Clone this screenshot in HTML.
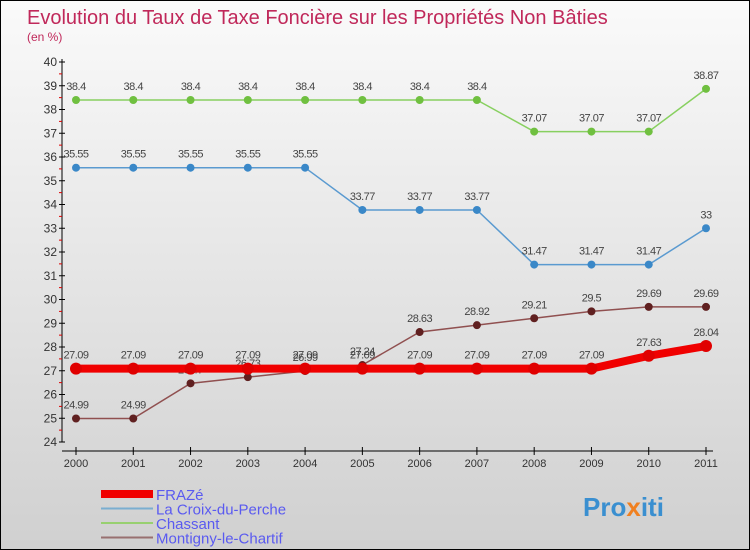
<!DOCTYPE html>
<html><head><meta charset="utf-8"><style>
body{margin:0}
#c{width:748px;height:548px;border:1px solid #000;background:linear-gradient(#fafafa,#d0d0d0);position:relative;font-family:"Liberation Sans",sans-serif;overflow:hidden}
</style></head><body>
<div id="c">
<svg id="s" width="748" height="548" xmlns="http://www.w3.org/2000/svg">
<text x="26" y="23" font-size="20" fill="#c0285a">Evolution du Taux de Taxe Foncière sur les Propriétés Non Bâties</text>
<text x="26" y="40" font-size="12" fill="#c0285a">(en %)</text>
<g id="axes"></g><g id="series"></g><g id="legend"></g>
<text x="582" y="515" font-size="26" font-weight="bold" fill="#3a8fd0">Pro<tspan fill="#f08020">x</tspan>iti</text>
</svg></div>
<script>
const years=["2000","2001","2002","2003","2004","2005","2006","2007","2008","2009","2010","2011"];
const yTicks=[24,25,26,27,28,29,30,31,32,33,34,35,36,37,38,39,40];
const fraze=[27.09,27.09,27.09,27.09,27.09,27.09,27.09,27.09,27.09,27.09,27.63,28.04];
const croix=[35.55,35.55,35.55,35.55,35.55,33.77,33.77,33.77,31.47,31.47,31.47,33];
const chassant=[38.4,38.4,38.4,38.4,38.4,38.4,38.4,38.4,37.07,37.07,37.07,38.87];
const montigny=[24.99,24.99,26.47,26.73,26.99,27.24,28.63,28.92,29.21,29.5,29.69,29.69];
const NS="http://www.w3.org/2000/svg";
const X=i=>75+i*(630/11);
const Y=v=>441-(v-24)*23.75;
function mk(p,t,a){const e=document.createElementNS(NS,t);for(const k in a)e.setAttribute(k,a[k]);p.appendChild(e);return e;}
const ax=document.getElementById('axes');
let l=mk(ax,'line',{x1:61,y1:58,x2:61,y2:441,stroke:'#000'});


l=mk(ax,'line',{x1:61,y1:450,x2:712,y2:450,stroke:'#000'});


yTicks.forEach((v,i)=>{
 mk(ax,'line',{x1:58,y1:Y(v),x2:64,y2:Y(v),stroke:'#000'});
 if(i<yTicks.length-1)mk(ax,'line',{x1:58,y1:Y(v+0.5),x2:61,y2:Y(v+0.5),stroke:'#d00'});
 const t=mk(ax,'text',{x:56,y:Y(v)+4,'font-size':12,fill:'#333','text-anchor':'end'});
 t.textContent=v;
 
 
});
years.forEach((y,i)=>{
 mk(ax,'line',{x1:X(i),y1:446,x2:X(i),y2:454,stroke:'#000'});
 const t=mk(ax,'text',{x:X(i),y:466,'font-size':11,fill:'#333','text-anchor':'middle'});
 t.textContent=y;
 
 
});
const S=document.getElementById('series');
function draw(name,data,color,dot,w,r){
 const g=mk(S,'g',{});
 
 
 mk(g,'polyline',{points:data.map((v,i)=>X(i)+','+Y(v)).join(' '),fill:'none',stroke:color,'stroke-width':w});
 data.forEach((v,i)=>{
  const c=mk(g,'circle',{cx:X(i),cy:Y(v),r:r,fill:dot});
  
  
  const t=mk(g,'text',{x:X(i),y:Y(v)-10,'font-size':11,fill:'#444','text-anchor':'middle','letter-spacing':'-0.5'});
  t.textContent=v;
  
  
 });
}
draw('chassant',chassant,'#88d060','#70c040',1.5,4);
draw('la-croix-du-perche',croix,'#5a9ad0','#3a88c8',1.5,4);
draw('montigny-le-chartif',montigny,'#905050','#602020',1.5,4);
draw('fraze',fraze,'#f00000','#e00000',8,6);
const L=document.getElementById('legend');
[['FRAZé','#f00000',8],['La Croix-du-Perche','#7aaed0',2],['Chassant','#98d070',2],['Montigny-le-Chartif','#987070',2]].forEach((d,i)=>{
 const y=493+i*14.5;
 mk(L,'line',{x1:100,y1:y,x2:152,y2:y,stroke:d[1],'stroke-width':d[2]});
 const t=mk(L,'text',{x:155,y:y+6,'font-size':15,fill:'#5a5af0'});
 t.textContent=d[0];
 
 
});
</script>
</body></html>
